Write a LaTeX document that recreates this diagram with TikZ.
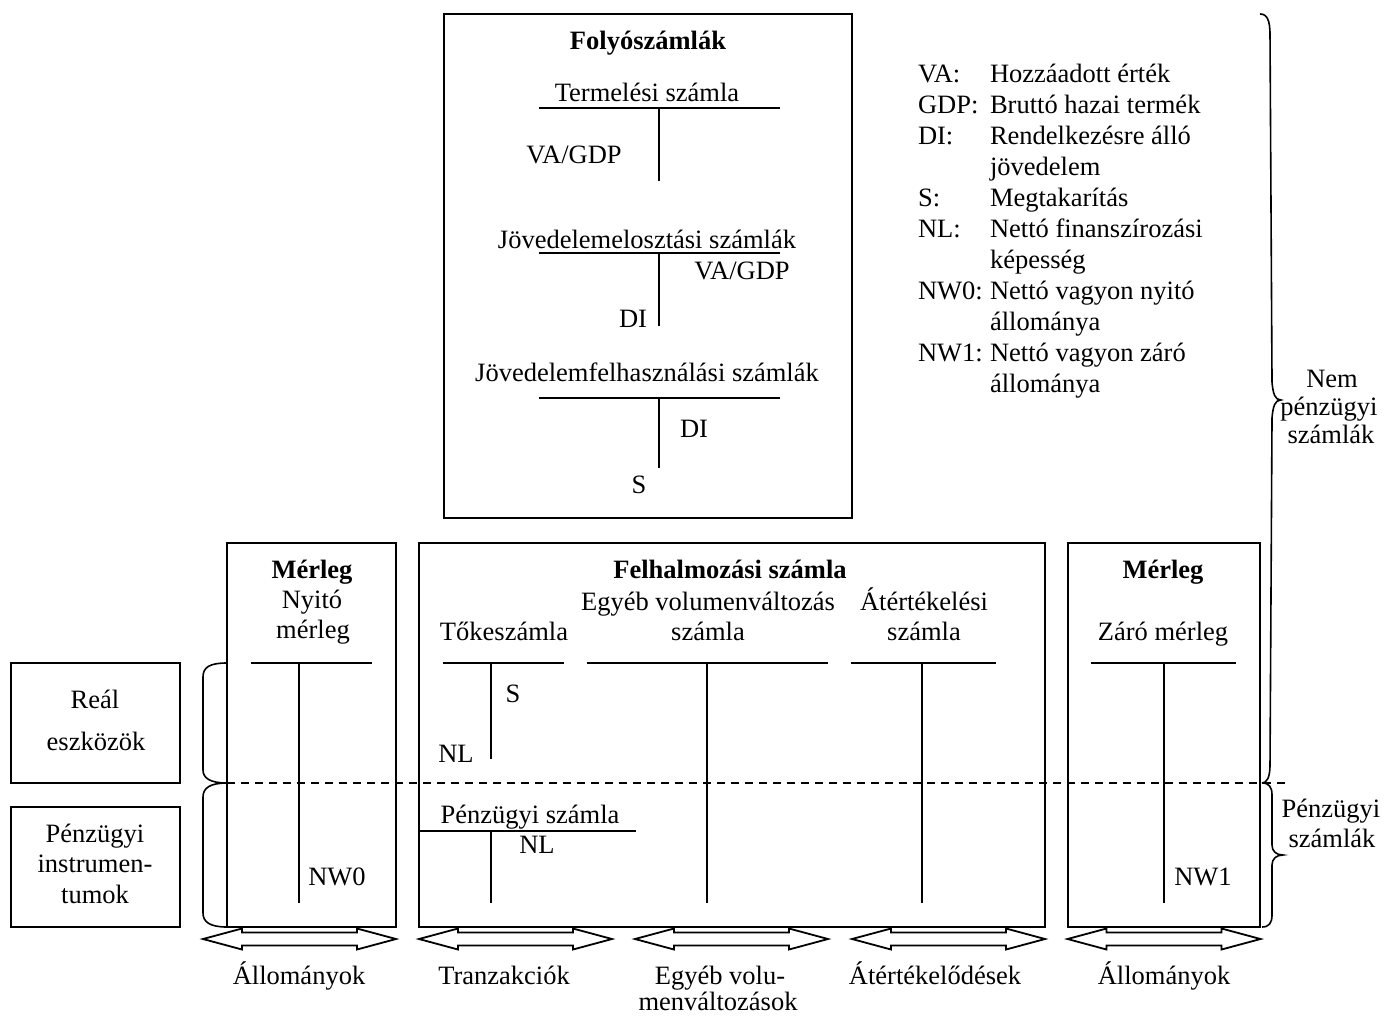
\documentclass[tikz,border=0pt]{standalone}
\usepackage{fontspec}
\setmainfont{Liberation Serif}
\begin{document}
\begin{tikzpicture}[x=0.5pt,y=-0.5pt,
  every node/.style={inner sep=0pt,outer sep=0pt,font=\fontsize{13.25pt}{15.5pt}\selectfont},
  txt/.style={anchor=base},
  txtw/.style={anchor=base west},
  btxt/.style={anchor=base,font=\fontsize{13.25pt}{15.5pt}\selectfont\bfseries},
  frame/.style={draw=black,line width=1pt},
  thline/.style={line width=1.1pt},
  tvline/.style={line width=0.75pt},
  brace/.style={line width=0.8pt},
  arrowshape/.style={draw=black,fill=white,line width=0.9pt,line join=miter},
  dblarrow/.pic={\draw[arrowshape] (-96.5,0) -- (-57.5,-10.5) -- (-57.5,-6.5) -- (57.5,-6.5) -- (57.5,-10.5) -- (96.5,0) -- (57.5,10.5) -- (57.5,6.5) -- (-57.5,6.5) -- (-57.5,10.5) -- cycle;}
]
\useasboundingbox (0,0) rectangle (1384,1016);

% ---------- top box: Folyoszamlak ----------
\node[frame,minimum width=408pt*0.5,minimum height=504pt*0.5,anchor=north west] (fbox) at (444,14) {};
\node[btxt] (ftitle) at (648,50) {Folyószámlák};
\node[txt] (t1) at (647,102) {Termelési számla};
\coordinate (t1l) at (539,108); \coordinate (t1r) at (780,108);
\coordinate (t1a) at (659,108); \coordinate (t1b) at (659,181);
\draw[thline] (t1l) -- (t1r);
\draw[tvline] (t1a) -- (t1b);
\node[txt] (va1) at (574,164) {VA/GDP};

\node[txt] (t2) at (647,248) {Jövedelemelosztási számlák};
\coordinate (t2l) at (539,253); \coordinate (t2r) at (780,253);
\coordinate (t2a) at (659,253); \coordinate (t2b) at (659,326);
\draw[thline] (t2l) -- (t2r);
\draw[tvline] (t2a) -- (t2b);
\node[txt] (va2) at (742,279) {VA/GDP};
\node[txt] (di1) at (633,327) {DI};

\node[txt] (t3) at (647,381) {Jövedelemfelhasználási számlák};
\coordinate (t3l) at (539,398); \coordinate (t3r) at (780,398);
\coordinate (t3a) at (659,398); \coordinate (t3b) at (659,468);
\draw[thline] (t3l) -- (t3r);
\draw[tvline] (t3a) -- (t3b);
\node[txt] (di2) at (694,437) {DI};
\node[txt] (s1) at (639,493) {S};

% ---------- legend ----------
\foreach \i/\a/\b in {0/VA:/Hozzáadott érték,1/GDP:/Bruttó hazai termék,2/DI:/Rendelkezésre álló,3//jövedelem,4/S:/Megtakarítás,5/NL:/Nettó finanszírozási,6//képesség,7/NW0:/Nettó vagyon nyitó,8//állománya,9/NW1:/Nettó vagyon záró,10//állománya}{
  \node[txtw] (lgA\i) at (918,83+30.9*\i) {\a};
  \node[txtw] (lgB\i) at (990,83+30.9*\i) {\b};
}

% ---------- left boxes ----------
\node[frame,minimum width=169pt*0.5,minimum height=120pt*0.5,anchor=north west] (realbox) at (11,663) {};
\node[txt] (real1) at (95,708) {Reál};
\node[txt] (real2) at (96,750) {eszközök};
\node[frame,minimum width=169pt*0.5,minimum height=120pt*0.5,anchor=north west] (penzbox) at (11,807) {};
\node[txt] (pi1) at (95,842) {Pénzügyi};
\node[txt] (pi2) at (95,872) {instrumen-};
\node[txt] (pi3) at (95,903) {tumok};

% ---------- left braces ----------
\draw[brace] (227,663) .. controls (210,663) and (203,667) .. (203,677) -- (203,770) .. controls (203,778) and (210,783) .. (227,783);
\draw[brace] (227,783) .. controls (210,783) and (203,788) .. (203,797) -- (203,913) .. controls (203,922) and (210,927) .. (227,927);

% ---------- opening balance ----------
\node[frame,minimum width=169pt*0.5,minimum height=384pt*0.5,anchor=north west] (nybox) at (227,543) {};
\node[btxt] (ny0) at (312,578) {Mérleg};
\node[txt] (ny1) at (312,608) {Nyitó};
\node[txt] (ny2) at (313,638) {mérleg};
\coordinate (nyl) at (251,663); \coordinate (nyr) at (372,663);
\coordinate (nya) at (299,663); \coordinate (nyb) at (299,903);
\draw[thline] (nyl) -- (nyr);
\draw[tvline] (nya) -- (nyb);
\node[txt] (nw0) at (337,885) {NW0};

% ---------- accumulation ----------
\node[frame,minimum width=626pt*0.5,minimum height=384pt*0.5,anchor=north west] (fhbox) at (419,543) {};
\node[btxt] (fh0) at (730,578) {Felhalmozási számla};
\node[txt] (tk) at (504,640) {Tőkeszámla};
\node[txt] (eg1) at (708,610) {Egyéb volumenváltozás};
\node[txt] (eg2) at (708,640) {számla};
\node[txt] (at1) at (924,610) {Átértékelési};
\node[txt] (at2) at (924,640) {számla};
\coordinate (tkl) at (443,663); \coordinate (tkr) at (564,663);
\coordinate (tka) at (491,663); \coordinate (tkb) at (491,759);
\draw[thline] (tkl) -- (tkr);
\draw[tvline] (tka) -- (tkb);
\node[txt] (tks) at (513,702) {S};
\node[txt] (tknl) at (456,762) {NL};
\coordinate (egl) at (587,663); \coordinate (egr) at (828,663);
\coordinate (ega) at (707,663); \coordinate (egb) at (707,903);
\draw[thline] (egl) -- (egr);
\draw[tvline] (ega) -- (egb);
\coordinate (atl) at (851,663); \coordinate (atr) at (996,663);
\coordinate (ata) at (922,663); \coordinate (atb) at (922,903);
\draw[thline] (atl) -- (atr);
\draw[tvline] (ata) -- (atb);
\node[txt] (pz) at (530,823) {Pénzügyi számla};
\coordinate (pzl) at (419,831); \coordinate (pzr) at (636,831);
\coordinate (pza) at (491,831); \coordinate (pzb) at (491,903);
\draw[thline] (pzl) -- (pzr);
\draw[tvline] (pza) -- (pzb);
\node[txt] (pznl) at (537,853) {NL};

% ---------- closing balance ----------
\node[frame,minimum width=192pt*0.5,minimum height=384pt*0.5,anchor=north west] (zbox) at (1068,543) {};
\node[btxt] (z0) at (1163,578) {Mérleg};
\node[txt] (z1) at (1163,640) {Záró mérleg};
\coordinate (zl) at (1091,663); \coordinate (zr) at (1236,663);
\coordinate (za) at (1164,663); \coordinate (zb) at (1164,903);
\draw[thline] (zl) -- (zr);
\draw[tvline] (za) -- (zb);
\node[txt] (nw1) at (1203,885) {NW1};

% ---------- dashed divider ----------
\coordinate (dash0) at (227,783); \coordinate (dash1) at (1286,783);
\draw[line width=0.9pt,dash pattern=on 4pt off 3pt] (dash0) -- (dash1);

% ---------- right braces ----------
\draw[brace] (1260,14) .. controls (1267,14) and (1270,20) .. (1270,35) -- (1272,382) .. controls (1273,394) and (1275,400) .. (1281,400) .. controls (1275,400) and (1273,406) .. (1272,418) -- (1270,765) .. controls (1270,777) and (1267,783) .. (1262,783);
\draw[brace] (1262,783) .. controls (1269,783) and (1272,787) .. (1272,795) -- (1272,845) .. controls (1272,851) and (1276,855) .. (1283,855) .. controls (1276,855) and (1272,859) .. (1272,865) -- (1272,915) .. controls (1272,923) and (1269,927) .. (1262,927);
\node[txt] (rn1) at (1332,387) {Nem};
\node[txt] (rn2) at (1329,415) {pénzügyi};
\node[txt] (rn3) at (1331,443) {számlák};
\node[txt] (rp1) at (1331,817) {Pénzügyi};
\node[txt] (rp2) at (1332,847) {számlák};

% ---------- bottom arrows ----------
\pic at (299.5,939) {dblarrow};
\pic at (515.5,939) {dblarrow};
\pic at (731.5,939) {dblarrow};
\pic at (948.5,939) {dblarrow};
\pic at (1164,939) {dblarrow};
\node[txt] (b1) at (299,984) {Állományok};
\node[txt] (b2) at (504,984) {Tranzakciók};
\node[txt] (b3) at (720,984) {Egyéb volu-};
\node[txt] (b3b) at (718,1010) {menváltozások};
\node[txt] (b4) at (935,984) {Átértékelődések};
\node[txt] (b5) at (1164,984) {Állományok};
\end{tikzpicture}
\end{document}
